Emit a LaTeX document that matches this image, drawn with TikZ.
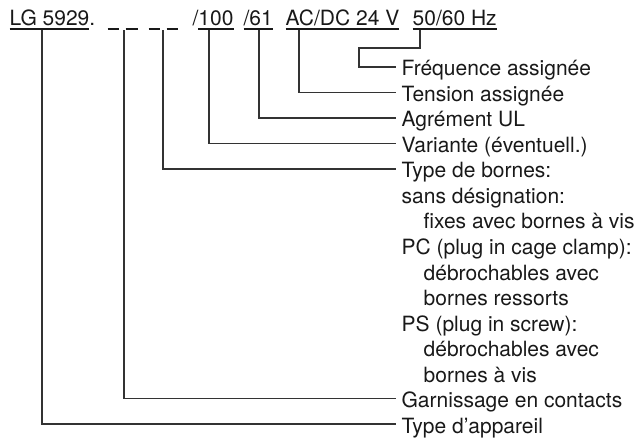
\documentclass[tikz,border=0pt]{standalone}
\usepackage{fontspec}
\setmainfont{TeX Gyre Heros}
\usepackage{xcolor}
\usepackage{tikz}

% underline with a rule of our own thickness
\newcommand\undl[1]{\setbox0\hbox{#1}\rlap{\rule[-3.6pt]{\wd0}{1.3pt}}\box0}

\begin{document}
\begin{tikzpicture}[x=1pt,y=-1pt,line width=1.3pt,
  code/.style={anchor=base west,inner sep=0pt,text=black!90,font=\fontsize{21}{25}\selectfont},
  lbl/.style={anchor=west,inner xsep=5pt,inner ysep=0pt,text height=18pt,text depth=0pt,text=black!90,font=\fontsize{21}{25}\selectfont},
  lead/.style={draw=black!80}]
\useasboundingbox (0,0) rectangle (637,438);
% order code
\node[code] (lg) at (9,26) {\undl{LG 5929}.};
\node[code] (cont) at (107,26) {\undl{\hspace{11pt}}\hspace{7pt}\undl{\hspace{12pt}}};
\node[code] (born) at (148,26) {\undl{\hspace{11pt}}\hspace{7pt}\undl{\hspace{11pt}}};
\node[code] (var) at (192,26) {/\undl{100}};
\node[code] (ul) at (243,26) {\undl{/61}};
\node[code] (volt) at (285,26) {\undl{AC/DC 24 V}};
\node[code] (hz) at (412,26) {\undl{50/60 Hz}};
% labels
\node[lbl] (lfreq) at (396,67) {Fréquence assignée};
\node[lbl] (ltens) at (396,92.5) {Tension assignée};
\node[lbl] (lul) at (396,118) {Agrément UL};
\node[lbl] (lvar) at (396,143.5) {Variante (éventuell.)};
\node[lbl] (lborn) at (396,169) {Type de bornes:};
\node[lbl] (b1) at (396,194.5) {sans désignation:};
\node[lbl] (b2) at (418,220) {fixes avec bornes à vis};
\node[lbl] (b3) at (396,245.5) {PC (plug in cage clamp):};
\node[lbl] (b4) at (418,271) {débrochables avec};
\node[lbl] (b5) at (418,296.5) {bornes ressorts};
\node[lbl] (b6) at (396,322) {PS (plug in screw):};
\node[lbl] (b7) at (418,347.5) {débrochables avec};
\node[lbl] (b8) at (418,373) {bornes à vis};
\node[lbl] (lcont) at (396,398.5) {Garnissage en contacts};
\node[lbl] (ltype) at (396,424) {Type d’appareil};
% leaders
\coordinate (jog) at (359,48);
\draw[lead] ([xshift=8pt]hz.south west) |- (jog) |- (lfreq.west);
\draw[lead] ([xshift=14pt]volt.south west) |- (ltens.west);
\draw[lead] ([xshift=16pt]ul.south west) |- (lul.west);
\draw[lead] ([xshift=17pt]var.south west) |- (lvar.west);
\draw[lead] ([xshift=15pt]born.south west) |- (lborn.west);
\draw[lead] ([xshift=17pt]cont.south west) |- (lcont.west);
\draw[lead] ([xshift=33pt]lg.south west) |- (ltype.west);
\end{tikzpicture}
\end{document}
